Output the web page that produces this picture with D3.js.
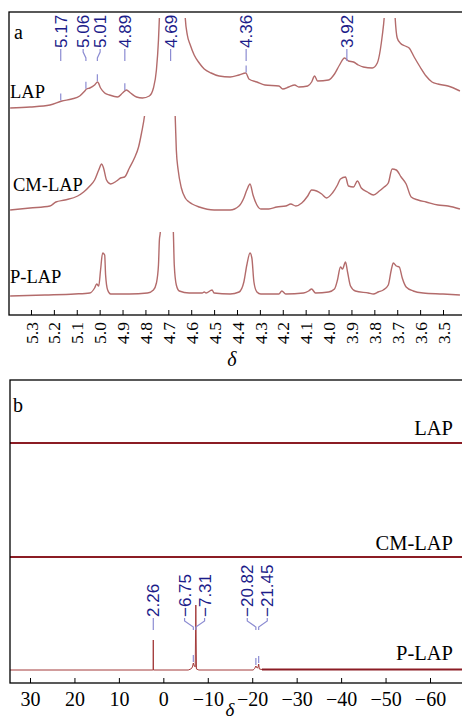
<!DOCTYPE html>
<html>
<head>
<meta charset="utf-8">
<script src="https://cdn.jsdelivr.net/npm/d3@7"></script>
<style>
  body { margin: 0; background: #fff; }
  svg { display: block; }
</style>
</head>
<body>
<svg id="chart" width="462" height="722"></svg>
<script>
// ---------- data ----------
// (a) 1H NMR, chemical shift δ (ppm) vs relative intensity
const tickA = [5.3, 5.2, 5.1, 5.0, 4.9, 4.8, 4.7, 4.6, 4.5, 4.4, 4.3, 4.2, 4.1, 4.0, 3.9, 3.8, 3.7, 3.6, 3.5];
const peaksA = [5.17, 5.06, 5.01, 4.89, 4.69, 4.36, 3.92];

const lapH = [
  [5.391, 2], [5.304, 3], [5.217, 5], [5.165, 9], [5.122, 11], [5.087, 14], [5.065, 19], [5.057, 21],
  [5.043, 22], [5.022, 25], [5.009, 28], [4.996, 22], [4.978, 17], [4.957, 15], [4.922, 13], [4.900, 17],
  [4.883, 20], [4.865, 17], [4.839, 13], [4.813, 12], [4.783, 14], [4.765, 22], [4.752, 40], [4.743, 70],
  [4.739, 92], [4.735, 110], [4.690, 400], [4.630, 110], [4.626, 92], [4.617, 75], [4.604, 65], [4.587, 55],
  [4.565, 47], [4.543, 41], [4.513, 37], [4.478, 34], [4.430, 33], [4.391, 35], [4.361, 37], [4.348, 31],
  [4.313, 28], [4.278, 25], [4.217, 24], [4.200, 21], [4.174, 23], [4.148, 25], [4.130, 23], [4.091, 24],
  [4.074, 28], [4.061, 34], [4.048, 29], [4.000, 30], [3.974, 36], [3.952, 45], [3.930, 52], [3.913, 49],
  [3.891, 48], [3.870, 45], [3.848, 43], [3.809, 42], [3.787, 47], [3.774, 60], [3.765, 75], [3.757, 92],
  [3.752, 110], [3.720, 300], [3.713, 110], [3.709, 92], [3.700, 72], [3.687, 67], [3.665, 64], [3.648, 62],
  [3.626, 53], [3.600, 43], [3.574, 34], [3.548, 28], [3.522, 26], [3.478, 24], [3.426, 19]
];

const cmlapH = [
  [5.391, 2], [5.304, 4], [5.217, 6], [5.191, 10], [5.152, 12], [5.096, 16], [5.070, 20], [5.043, 26],
  [5.022, 32], [5.004, 42], [4.991, 48], [4.983, 44], [4.970, 32], [4.952, 28], [4.926, 31], [4.909, 34],
  [4.891, 35], [4.870, 44], [4.848, 54], [4.830, 65], [4.817, 79], [4.804, 96], [4.796, 112], [4.730, 400],
  [4.674, 112], [4.670, 96], [4.665, 62], [4.657, 42], [4.643, 24], [4.626, 14], [4.609, 10], [4.596, 8],
  [4.565, 5], [4.500, 2], [4.430, 2], [4.391, 6], [4.370, 14], [4.357, 22], [4.343, 28], [4.330, 17],
  [4.313, 7], [4.296, 3], [4.261, 3], [4.226, 5], [4.187, 6], [4.165, 8], [4.143, 6], [4.117, 9],
  [4.091, 16], [4.074, 22], [4.052, 21], [4.030, 18], [4.009, 14], [3.983, 19], [3.961, 27], [3.948, 33],
  [3.926, 35], [3.913, 26], [3.891, 25], [3.874, 31], [3.857, 24], [3.830, 20], [3.804, 17], [3.778, 21],
  [3.757, 25], [3.739, 29], [3.722, 43], [3.704, 42], [3.683, 35], [3.661, 28], [3.639, 15], [3.609, 12],
  [3.574, 10], [3.522, 7], [3.478, 6], [3.426, 3]
];

const plapH = [
  [5.391, 0], [5.239, 1], [5.109, 2], [5.043, 3], [5.022, 8], [5.013, 12], [5.004, 10], [4.996, 26],
  [4.987, 43], [4.978, 41], [4.974, 21], [4.965, 6], [4.952, 2], [4.870, 2], [4.791, 3], [4.765, 6],
  [4.752, 13], [4.743, 31], [4.739, 56], [4.735, 64], [4.733, 76], [4.700, 400], [4.680, 76], [4.678, 64],
  [4.674, 31], [4.665, 11], [4.652, 5], [4.609, 3], [4.552, 3], [4.543, 4], [4.535, 3], [4.509, 6],
  [4.500, 3], [4.430, 2], [4.391, 4], [4.370, 14], [4.357, 31], [4.343, 43], [4.335, 38], [4.326, 14],
  [4.313, 4], [4.296, 2], [4.217, 2], [4.204, 5], [4.187, 2], [4.109, 3], [4.087, 5], [4.074, 7],
  [4.057, 3], [4.000, 4], [3.974, 7], [3.961, 16], [3.948, 29], [3.939, 27], [3.926, 34], [3.917, 24],
  [3.904, 10], [3.883, 5], [3.826, 3], [3.804, 2], [3.783, 4], [3.761, 6], [3.739, 11], [3.726, 26],
  [3.717, 33], [3.704, 30], [3.691, 29], [3.678, 18], [3.661, 9], [3.630, 5], [3.587, 3], [3.500, 2],
  [3.426, 1]
];

// (b) 31P NMR
const tickB = [30, 20, 10, 0, -10, -20, -30, -40, -50, -60];
const peaksB = [2.26, -6.75, -7.31, -20.82, -21.45];

const lapP = [[34.5, 0], [-67.2, 0]];
const cmlapP = [[34.5, 0], [-67.2, 0]];
const plapP = [
  [34.5, 0], [2.45, 0], [2.30, 0], [2.26, 30], [2.22, 0], [-5.6, 0], [-6.2, 1], [-6.55, 3], [-6.75, 7],
  [-6.95, 4], [-7.18, 3], [-7.31, 65], [-7.45, 1], [-8.0, 0], [-20.2, 0], [-20.55, 1.5], [-20.82, 4],
  [-21.1, 2], [-21.3, 2.5], [-21.45, 6], [-21.6, 1], [-22.2, 0.5], [-67.2, 0.5]
];
const noiseFromB = -22.2;   // P-LAP baseline noise becomes visible from here upfield

// ---------- setup ----------
const svg = d3.select("#chart");
const serif = "'Liberation Serif', 'Times New Roman', serif";
const sans = "'Liberation Sans', Arial, sans-serif";
const traceColor = "#b36b6b";
const darkTrace = "#8b1c24";
const labelColor = "#1c1c8a";
const connColor = "#8c8cd2";

function interp(data, v) {
  for (let i = 0; i < data.length - 1; i++) {
    const a = data[i], b = data[i + 1];
    if ((v <= a[0] && v >= b[0]) || (v >= a[0] && v <= b[0])) {
      const t = (v - a[0]) / (b[0] - a[0]);
      return a[1] + t * (b[1] - a[1]);
    }
  }
  return 0;
}

function spread(xs, gap) {
  const p = xs.slice();
  for (let it = 0; it < 60; it++) {
    for (let i = 1; i < p.length; i++) {
      const d = p[i] - p[i - 1];
      if (d < gap) { const s = (gap - d) / 2; p[i - 1] -= s; p[i] += s; }
    }
  }
  return p;
}

function peakLabels(g, peaks, xs, trace, ys, y0, gap, fontSize) {
  const fmt = d3.format(".2f");
  const px = peaks.map(xs);
  const lx = spread(px, gap);
  peaks.forEach((v, i) => {
    g.append("text")
      .attr("transform", `translate(${lx[i]},${y0}) rotate(-90)`)
      .attr("dy", "0.35em")
      .attr("text-anchor", "start")
      .attr("font-family", sans)
      .attr("font-size", fontSize)
      .attr("fill", labelColor)
      .text(fmt(v));
    const c = d3.path();
    c.moveTo(lx[i], y0 + 1);
    c.lineTo(lx[i], y0 + 4);
    c.lineTo(px[i], y0 + 10);
    c.lineTo(px[i], y0 + 13);
    g.append("path").attr("d", c.toString()).attr("fill", "none")
      .attr("stroke", connColor).attr("stroke-width", 1.2);
    const py = ys(interp(trace, v));
    if (py - 8 > y0 + 15) {
      g.append("line").attr("x1", px[i]).attr("x2", px[i])
        .attr("y1", py - 8).attr("y2", py - 1)
        .attr("stroke", connColor).attr("stroke-width", 1.2);
    }
  });
}

// ---------- panel (a) ----------
const A = { left: 9, right: 462, top: 12, bottom: 315 };
const xA = d3.scaleLinear().domain([5.396, 3.417]).range([A.left, A.right]);

const rowsA = [
  { name: "LAP", data: lapH, base: 110, clipTop: 18, textX: 10, textY: 98 },
  { name: "CM-LAP", data: cmlapH, base: 212, clipTop: 116, textX: 13, textY: 191 },
  { name: "P-LAP", data: plapH, base: 296, clipTop: 232, textX: 10, textY: 283 }
];

const defs = svg.append("defs");
rowsA.forEach((r, i) => {
  r.y = d3.scaleLinear().domain([0, 100]).range([r.base, r.base - 100]);
  defs.append("clipPath").attr("id", "clipA" + i)
    .append("rect").attr("x", A.left).attr("y", r.clipTop)
    .attr("width", A.right - A.left).attr("height", A.bottom - r.clipTop);
  const line = d3.line().x(d => xA(d[0])).y(d => r.y(d[1])).curve(d3.curveMonotoneX);
  svg.append("path").datum(r.data)
    .attr("clip-path", `url(#clipA${i})`)
    .attr("d", line).attr("fill", "none")
    .attr("stroke", traceColor).attr("stroke-width", 1.4).attr("stroke-linejoin", "round");
  svg.append("text").attr("x", r.textX).attr("y", r.textY)
    .attr("font-family", serif).attr("font-size", 18.5).text(r.name);
});

svg.append("rect").attr("x", A.left).attr("y", A.top)
  .attr("width", 470 - A.left).attr("height", A.bottom - A.top)
  .attr("fill", "none").attr("stroke", "#000").attr("stroke-width", 1.3);

const axA = svg.append("g").attr("transform", `translate(0,${A.bottom})`)
  .call(d3.axisBottom(xA).tickValues(tickA).tickFormat(d3.format(".1f"))
    .tickSizeInner(-5).tickSizeOuter(0));
axA.select(".domain").remove();
axA.selectAll(".tick line").attr("stroke", "#000").attr("stroke-width", 1);
axA.selectAll(".tick text")
  .attr("transform", "rotate(-90)")
  .attr("x", -7).attr("y", 0).attr("dy", "0.35em")
  .attr("text-anchor", "end")
  .attr("font-family", serif).attr("font-size", 17.5).attr("fill", "#000");

svg.append("text").attr("x", 232).attr("y", 366).attr("text-anchor", "middle")
  .attr("font-family", serif).attr("font-style", "italic").attr("font-size", 20).text("δ");
svg.append("text").attr("x", 14).attr("y", 39)
  .attr("font-family", serif).attr("font-size", 20).text("a");

peakLabels(svg.append("g"), peaksA, xA, lapH, rowsA[0].y, 48, 17, 17);

// ---------- panel (b) ----------
const B = { left: 10, right: 462, top: 380, bottom: 683 };
const xB = d3.scaleLinear().domain([34.5, -67.2]).range([B.left, B.right]);

const rowsB = [
  { name: "LAP", data: lapP, base: 443, textY: 435 },
  { name: "CM-LAP", data: cmlapP, base: 557, textY: 550 },
  { name: "P-LAP", data: plapP, base: 670, textY: 660 }
];

defs.append("clipPath").attr("id", "clipB")
  .append("rect").attr("x", B.left).attr("y", B.top)
  .attr("width", B.right - B.left).attr("height", B.bottom - B.top);

rowsB.forEach((r, i) => {
  r.y = d3.scaleLinear().domain([0, 100]).range([r.base, r.base - 100]);
  const line = d3.line().x(d => xB(d[0])).y(d => r.y(d[1]));
  const g = svg.append("g").attr("clip-path", "url(#clipB)");
  if (r.name === "P-LAP") {
    g.append("path").datum(r.data).attr("d", line).attr("fill", "none")
      .attr("stroke", "#a33a3a").attr("stroke-width", 1);
    g.append("path").datum(r.data.filter(d => d[0] <= noiseFromB)).attr("d", line)
      .attr("fill", "none").attr("stroke", darkTrace).attr("stroke-width", 2);
  } else {
    g.append("path").datum(r.data).attr("d", line).attr("fill", "none")
      .attr("stroke", darkTrace).attr("stroke-width", 2);
  }
  svg.append("text").attr("x", 453).attr("y", r.textY).attr("text-anchor", "end")
    .attr("font-family", serif).attr("font-size", 20.5).text(r.name);
});

svg.append("rect").attr("x", B.left).attr("y", B.top)
  .attr("width", 470 - B.left).attr("height", B.bottom - B.top)
  .attr("fill", "none").attr("stroke", "#000").attr("stroke-width", 1.3);

const axB = svg.append("g").attr("transform", `translate(0,${B.bottom})`)
  .call(d3.axisBottom(xB).tickValues(tickB).tickSizeInner(-5).tickSizeOuter(0));
axB.select(".domain").remove();
axB.selectAll(".tick line").attr("stroke", "#000").attr("stroke-width", 1);
axB.selectAll(".tick text").attr("y", 9).attr("dy", "0.71em")
  .attr("font-family", serif).attr("font-size", 20).attr("fill", "#000");

svg.append("text").attr("x", 230).attr("y", 716).attr("text-anchor", "middle")
  .attr("font-family", serif).attr("font-style", "italic").attr("font-size", 19).text("δ");
svg.append("text").attr("x", 13).attr("y", 412)
  .attr("font-family", serif).attr("font-size", 20).text("b");

peakLabels(svg.append("g"), peaksB, xB, plapP, rowsB[2].y, 617, 20, 17);
</script>
</body>
</html>
